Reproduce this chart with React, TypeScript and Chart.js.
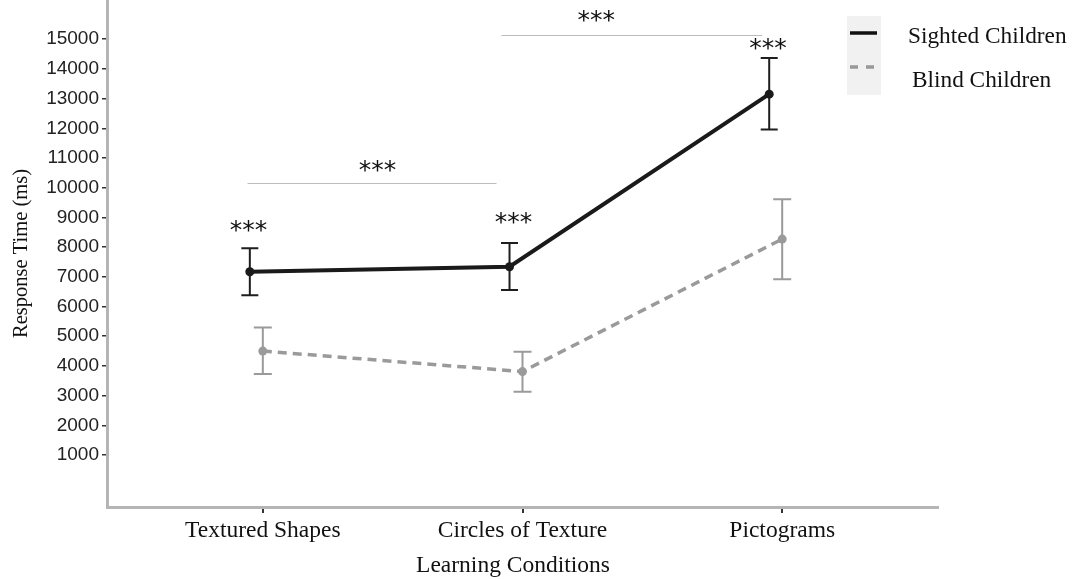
import React, { useEffect, useRef } from "react";
import { Chart, registerables } from "chart.js";

Chart.register(...registerables);

// ---- Data ----
const categories = ["Textured Shapes", "Circles of Texture", "Pictograms"];
const seriesNames = ["Sighted Children", "Blind Children"];
const xTitle = "Learning Conditions";
const yTitle = "Response Time (ms)";

const sightedMean = [7170, 7340, 13150];
const sightedLow = [6380, 6560, 11960];
const sightedHigh = [7960, 8140, 14370];

const blindMean = [4500, 3810, 8270];
const blindLow = [3730, 3130, 6920];
const blindHigh = [5290, 4480, 9610];

const yTicks = [1000, 2000, 3000, 4000, 5000, 6000, 7000, 8000, 9000, 10000, 11000, 12000, 13000, 14000, 15000];
const xTicks = [1, 2, 3];

// dodge offsets (category units)
const sightedOffset = -0.05;
const blindOffset = 0;

// significance annotations: category-level stars above sighted error bars
const starCategoryY = [8650, 8920, 14780];
const starCategoryX = [0.995, 2.015, 2.995];

// comparison brackets
const bracketFrom = [0.941, 1.919];
const bracketTo = [1.9, 2.923];
const bracketY = [10170, 15140];
const bracketLabelX = [1.442, 2.284];
const bracketLabelY = [10680, 15720];
const starLabel = "***";

const SERIF = "'Liberation Serif', 'Times New Roman', serif";
const SANS = "'Liberation Sans', Arial, sans-serif";

export default function App() {
  const canvasRef = useRef<HTMLCanvasElement | null>(null);

  useEffect(() => {
    document.body.style.margin = "0";
    const canvas = canvasRef.current;
    if (!canvas) return;

    const errorBarPlugin = {
      id: "errorBars",
      beforeDatasetsDraw(chart: any) {
        const { ctx, scales } = chart;
        const xs = scales.x;
        const ys = scales.y;
        const drawSet = (low: number[], high: number[], off: number, color: string, cap: number) => {
          ctx.save();
          ctx.strokeStyle = color;
          ctx.lineWidth = 2;
          for (let i = 0; i < low.length; i++) {
            const x = xs.getPixelForValue(i + 1 + off);
            const yl = ys.getPixelForValue(low[i]);
            const yh = ys.getPixelForValue(high[i]);
            ctx.beginPath();
            ctx.moveTo(x, yl);
            ctx.lineTo(x, yh);
            ctx.moveTo(x - cap / 2, yl);
            ctx.lineTo(x + cap / 2, yl);
            ctx.moveTo(x - cap / 2, yh);
            ctx.lineTo(x + cap / 2, yh);
            ctx.stroke();
          }
          ctx.restore();
        };
        drawSet(blindLow, blindHigh, blindOffset, "#9a9a9a", 18);
        drawSet(sightedLow, sightedHigh, sightedOffset, "#1e1e1e", 17);
      },
    };

    const annotationPlugin = {
      id: "annotations",
      afterDatasetsDraw(chart: any) {
        const { ctx, scales } = chart;
        const xs = scales.x;
        const ys = scales.y;
        ctx.save();
        ctx.strokeStyle = "#bdbdbd";
        ctx.lineWidth = 1;
        for (let i = 0; i < bracketY.length; i++) {
          const y = Math.round(ys.getPixelForValue(bracketY[i])) + 0.5;
          ctx.beginPath();
          ctx.moveTo(xs.getPixelForValue(bracketFrom[i]), y);
          ctx.lineTo(xs.getPixelForValue(bracketTo[i]), y);
          ctx.stroke();
        }
        ctx.fillStyle = "#111";
        ctx.font = `25px 'DejaVu Sans', sans-serif`;
        ctx.textAlign = "center";
        ctx.textBaseline = "middle";
        for (let i = 0; i < bracketLabelX.length; i++) {
          ctx.fillText(starLabel, xs.getPixelForValue(bracketLabelX[i]), ys.getPixelForValue(bracketLabelY[i]) + 4);
        }
        for (let i = 0; i < starCategoryX.length; i++) {
          ctx.fillText(starLabel, xs.getPixelForValue(starCategoryX[i] + sightedOffset), ys.getPixelForValue(starCategoryY[i]) + 4);
        }
        ctx.restore();
      },
    };

    const legendPlugin = {
      id: "customLegend",
      afterDraw(chart: any) {
        const { ctx } = chart;
        ctx.save();
        // x-axis title
        ctx.fillStyle = "#111";
        ctx.font = `23.5px ${SERIF}`;
        ctx.textAlign = "center";
        ctx.textBaseline = "middle";
        ctx.fillText(xTitle, 513, 566);
        // legend
        ctx.fillStyle = "#f1f1f1";
        ctx.fillRect(847, 16, 34, 79);
        ctx.lineWidth = 3.5;
        ctx.strokeStyle = "#111";
        ctx.beginPath();
        ctx.moveTo(850, 33);
        ctx.lineTo(877, 33);
        ctx.stroke();
        ctx.strokeStyle = "#999";
        ctx.setLineDash([8, 8]);
        ctx.beginPath();
        ctx.moveTo(850, 67);
        ctx.lineTo(878, 67);
        ctx.stroke();
        ctx.setLineDash([]);
        ctx.fillStyle = "#111";
        ctx.font = `23.3px ${SERIF}`;
        ctx.textAlign = "left";
        ctx.textBaseline = "middle";
        ctx.fillText(seriesNames[0], 908, 37);
        ctx.fillText(seriesNames[1], 912, 81);
        ctx.restore();
      },
    };

    const chart = new Chart(canvas, {
      type: "scatter",
      data: {
        datasets: [
          {
            label: seriesNames[0],
            data: sightedMean.map((v, i) => ({ x: i + 1 + sightedOffset, y: v })),
            showLine: true,
            borderColor: "#1a1a1a",
            backgroundColor: "#1a1a1a",
            borderWidth: 4,
            pointRadius: 4.5,
            pointBorderWidth: 0,
            pointBackgroundColor: "#1a1a1a",
          },
          {
            label: seriesNames[1],
            data: blindMean.map((v, i) => ({ x: i + 1 + blindOffset, y: v })),
            showLine: true,
            borderColor: "#9a9a9a",
            backgroundColor: "#9a9a9a",
            borderWidth: 3.5,
            borderDash: [9, 6],
            pointRadius: 4.5,
            pointBorderWidth: 0,
            pointBackgroundColor: "#9a9a9a",
          },
        ],
      },
      options: {
        animation: false,
        responsive: true,
        maintainAspectRatio: false,
        layout: { autoPadding: false, padding: { top: 0, right: 134, left: 0, bottom: 0 } },
        plugins: {
          legend: { display: false },
          tooltip: { enabled: false },
        },
        scales: {
          x: {
            type: "linear",
            min: 0.4,
            max: 3.6,
            afterBuildTicks(scale: any) {
              scale.ticks = xTicks.map((v) => ({ value: v }));
            },
            afterFit(scale: any) {
              scale.height = 72;
              scale.paddingLeft = 0;
              scale.paddingRight = 0;
            },
            ticks: {
              callback: (v: any) => categories[Number(v) - 1] ?? "",
              font: { family: SERIF, size: 23.5 },
              color: "#111",
              padding: 4,
              maxRotation: 0,
              autoSkip: false,
            },
            grid: { drawOnChartArea: false, drawTicks: true, tickLength: 6, color: "#333", lineWidth: 2 },
            border: { display: true, color: "#b5b5b5", width: 3 },
            title: { display: false },
          },
          y: {
            min: -750,
            max: 16320,
            afterBuildTicks(scale: any) {
              scale.ticks = yTicks.map((v) => ({ value: v }));
            },
            afterFit(scale: any) {
              scale.width = 107;
              scale.paddingTop = 0;
              scale.paddingBottom = 0;
            },
            ticks: {
              font: { family: SANS, size: 19 },
              color: "#222",
              padding: 3,
              autoSkip: false,
              callback: (v: any) => String(v),
            },
            grid: { drawOnChartArea: false, drawTicks: true, tickLength: 5, color: "#333", lineWidth: 1.5 },
            border: { display: true, color: "#b5b5b5", width: 3 },
            title: {
              display: true,
              text: yTitle,
              font: { family: SERIF, size: 20.5 },
              color: "#111",
              padding: { top: 9, bottom: 0 },
            },
          },
        },
      },
      plugins: [errorBarPlugin, annotationPlugin, legendPlugin],
    });

    return () => chart.destroy();
  }, []);

  return (
    <div style={{ position: "absolute", left: 0, top: 0, width: 1072, height: 579, background: "#fff" }}>
      <canvas ref={canvasRef} />
    </div>
  );
}
